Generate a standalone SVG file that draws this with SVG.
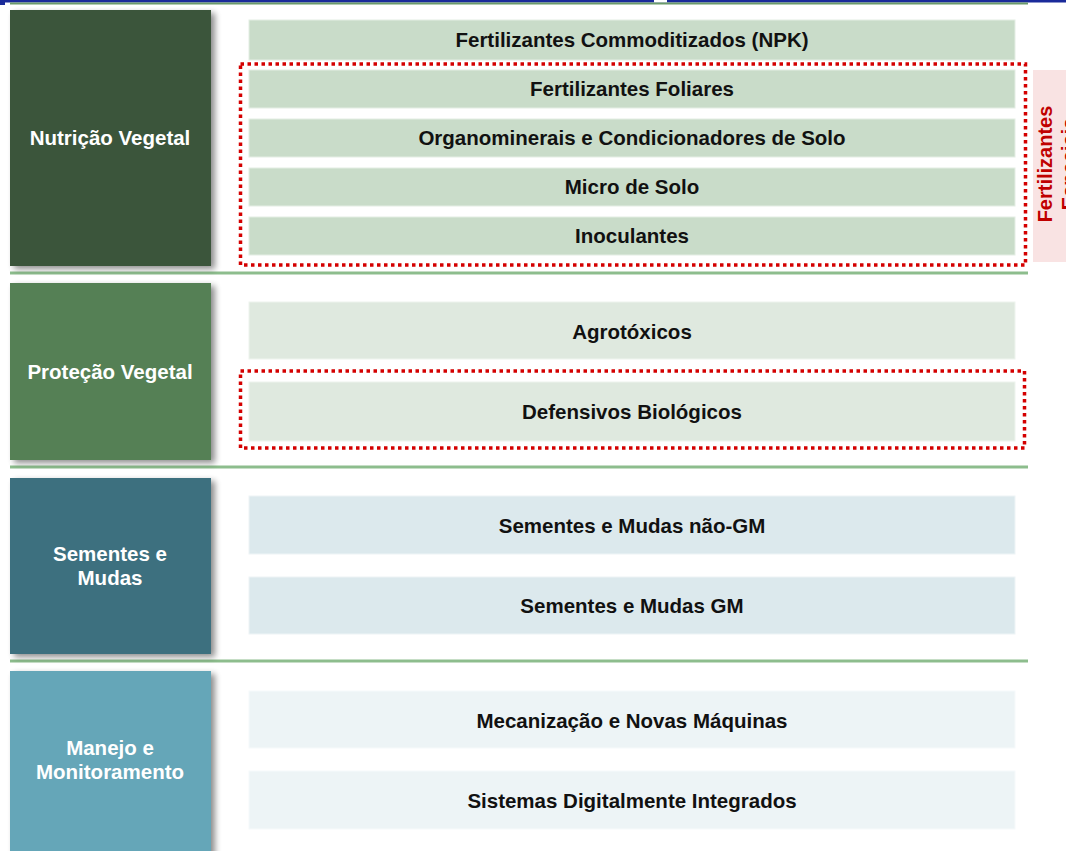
<svg xmlns="http://www.w3.org/2000/svg" width="1066" height="851" viewBox="0 0 1066 851">
<defs>
<filter id="sh" x="-10%" y="-10%" width="130%" height="130%">
<feGaussianBlur in="SourceAlpha" stdDeviation="3"/>
<feOffset dx="4" dy="3" result="b"/>
<feComponentTransfer><feFuncA type="linear" slope="0.45"/></feComponentTransfer>
<feMerge><feMergeNode/><feMergeNode in="SourceGraphic"/></feMerge>
</filter>
</defs>
<style>
.cat{font-family:"Liberation Sans",Arial,sans-serif;font-weight:bold;font-size:20.5px;fill:#ffffff;text-anchor:middle}
.row{font-family:"Liberation Sans",Arial,sans-serif;font-weight:bold;font-size:20.5px;fill:#111111;text-anchor:middle}
.sep{stroke:#8dbd8d;stroke-width:3}
.dot{fill:none;stroke:#d40000;stroke-width:3.5;stroke-dasharray:3.5 3.5}
.n{fill:#c9dcc9;stroke:#e4eee4;stroke-width:1}
.p{fill:#dfe9df;stroke:#eef4ee;stroke-width:1}
.s{fill:#dce9ed;stroke:#eef4f6;stroke-width:1}
.m{fill:#edf4f6;stroke:#f6fafb;stroke-width:1}
</style>
<rect width="1066" height="851" fill="#ffffff"/>
<g id="topbar">
<rect x="0" y="0" width="1066" height="2.5" fill="#1a2a9a"/>
<rect x="654" y="0" width="13" height="2.5" fill="#ffffff"/>
<rect x="0" y="0" width="5" height="5" fill="#1a2a9a"/>
<rect x="10" y="2.5" width="1018" height="2" fill="#6a9a6a"/>
</g>
<g id="separators">
<line class="sep" x1="10" y1="273" x2="1028" y2="273"/>
<line class="sep" x1="10" y1="467" x2="1028" y2="467"/>
<line class="sep" x1="10" y1="661" x2="1028" y2="661"/>
</g>
<g id="cat-nutricao">
<rect x="10" y="10" width="201" height="256" fill="#3a553a" filter="url(#sh)"/>
<text class="cat" x="110" y="145">Nutrição Vegetal</text>
</g>
<g id="cat-protecao">
<rect x="10" y="283" width="201" height="177" fill="#548055" filter="url(#sh)"/>
<text class="cat" x="110" y="379">Proteção Vegetal</text>
</g>
<g id="cat-sementes">
<rect x="10" y="478" width="201" height="176" fill="#3e6f7f" filter="url(#sh)"/>
<text class="cat" x="110" y="561">Sementes e</text>
<text class="cat" x="110" y="585">Mudas</text>
</g>
<g id="cat-manejo">
<rect x="10" y="671" width="201" height="185" fill="#65a6b8" filter="url(#sh)"/>
<text class="cat" x="110" y="755">Manejo e</text>
<text class="cat" x="110" y="779">Monitoramento</text>
</g>
<g id="row-npk"><rect class="n" x="249" y="20" width="766" height="40"/><text class="row" x="632" y="47">Fertilizantes Commoditizados (NPK)</text></g>
<g id="row-foliares"><rect class="n" x="249" y="70" width="766" height="38"/><text class="row" x="632" y="96">Fertilizantes Foliares</text></g>
<g id="row-organo"><rect class="n" x="249" y="119" width="766" height="38"/><text class="row" x="632" y="145">Organominerais e Condicionadores de Solo</text></g>
<g id="row-micro"><rect class="n" x="249" y="168" width="766" height="38"/><text class="row" x="632" y="194">Micro de Solo</text></g>
<g id="row-inoc"><rect class="n" x="249" y="217" width="766" height="38"/><text class="row" x="632" y="243">Inoculantes</text></g>
<g id="row-agro"><rect class="p" x="249" y="302" width="766" height="57"/><text class="row" x="632" y="339">Agrotóxicos</text></g>
<g id="row-defensivos"><rect class="p" x="249" y="382" width="766" height="59"/><text class="row" x="632" y="419">Defensivos Biológicos</text></g>
<g id="row-naogm"><rect class="s" x="249" y="496" width="766" height="58"/><text class="row" x="632" y="533">Sementes e Mudas não-GM</text></g>
<g id="row-gm"><rect class="s" x="249" y="577" width="766" height="57"/><text class="row" x="632" y="613">Sementes e Mudas GM</text></g>
<g id="row-mecan"><rect class="m" x="249" y="691" width="766" height="57"/><text class="row" x="632" y="728">Mecanização e Novas Máquinas</text></g>
<g id="row-digital"><rect class="m" x="249" y="771" width="766" height="58"/><text class="row" x="632" y="808">Sistemas Digitalmente Integrados</text></g>
<g id="groups">
<rect class="dot" x="240.5" y="64" width="785" height="201"/>
<rect class="dot" x="240.5" y="371" width="784" height="77"/>
</g>
<g id="label-especiais">
<rect x="1033" y="70" width="40" height="192" fill="#f9e3e3"/>
<text transform="translate(1052,164) rotate(-90)" font-family="Liberation Sans, Arial, sans-serif" font-weight="bold" font-size="20" fill="#c00000" text-anchor="middle">Fertilizantes</text>
<text transform="translate(1076,164) rotate(-90)" font-family="Liberation Sans, Arial, sans-serif" font-weight="bold" font-size="20" fill="#c00000" text-anchor="middle">Especiais</text>
</g>
</svg>
